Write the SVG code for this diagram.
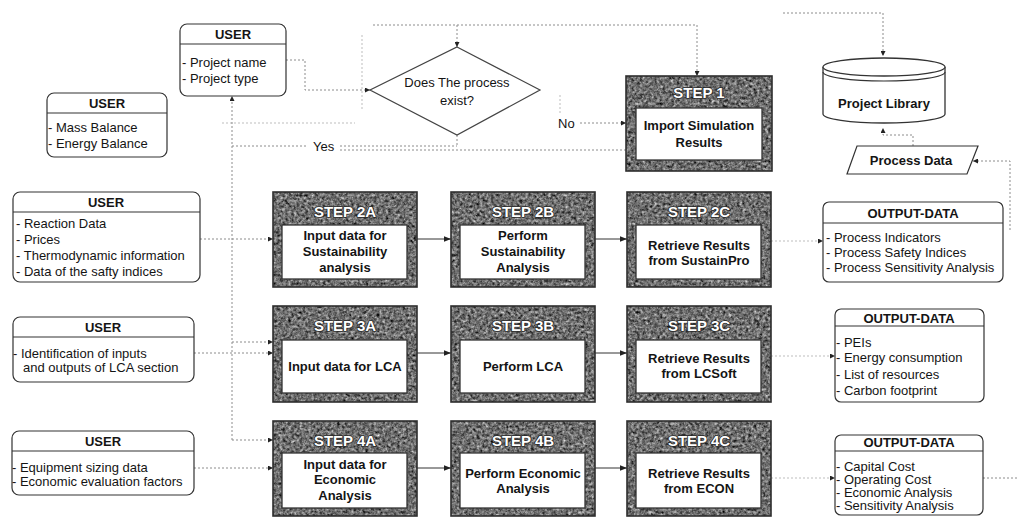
<svg xmlns="http://www.w3.org/2000/svg" width="1017" height="521" viewBox="0 0 1017 521">
<style>
text{font-family:"Liberation Sans",Arial,sans-serif;fill:#141414}
.ubox{fill:#fff;stroke:#333;stroke-width:1.2}
.div{stroke:#333;stroke-width:1.2}
.hdr{font-size:13px;font-weight:bold;text-anchor:middle}
.itm{font-size:13px}
.frame{fill:none;stroke:#2e2e2e;stroke-width:1.6}
.inner{fill:#fff;stroke:#333;stroke-width:1.3}
.slabel{font-size:15px;font-weight:bold;text-anchor:middle;fill:#fff;stroke:#2a2a2a;stroke-width:1.6;paint-order:stroke;stroke-linejoin:round}
.stxt{font-size:13px;font-weight:bold;text-anchor:middle}
.dot{fill:none;stroke:#8c8c8c;stroke-width:1;stroke-dasharray:2 2}
.faint{fill:none;stroke:#bdbdbd;stroke-width:1;stroke-dasharray:2 2}
.solid{fill:none;stroke:#333;stroke-width:1}
.lbl{font-size:13px}
</style>
<defs>
<marker id="ah" viewBox="0 0 10 10" refX="10" refY="5" markerWidth="5" markerHeight="5" orient="auto" markerUnits="strokeWidth">
<path d="M0,0 L10,5 L0,10 z" fill="#222"/>
</marker>
<marker id="ahs" viewBox="0 0 10 10" refX="10" refY="5" markerWidth="7" markerHeight="7" orient="auto" markerUnits="strokeWidth">
<path d="M0,1 L10,5 L0,9 z" fill="#222"/>
</marker>
<filter id="tex" x="0" y="0" width="1" height="1" color-interpolation-filters="sRGB">
<feTurbulence type="fractalNoise" baseFrequency="0.35" numOctaves="3" seed="4" result="n"/>
<feColorMatrix in="n" type="matrix" values="0.33 0.33 0.33 0 0 0.33 0.33 0.33 0 0 0.33 0.33 0.33 0 0 0 0 0 0 1" result="g"/>
<feComponentTransfer in="g" result="c">
<feFuncR type="linear" slope="1.6" intercept="-0.36"/>
<feFuncG type="linear" slope="1.6" intercept="-0.36"/>
<feFuncB type="linear" slope="1.6" intercept="-0.36"/>
<feFuncA type="linear" slope="0" intercept="1"/>
</feComponentTransfer>
<feComposite in="c" in2="SourceGraphic" operator="in"/>
</filter>
</defs>

<g id="connectors">
<path class="dot" d="M286,60 H305 V90 H370" marker-end="url(#ah)"/>
<path class="faint" d="M362,35 V110"/>
<path class="dot" d="M373,25 H697 V76" marker-end="url(#ah)"/>
<path class="dot" d="M457,25 V47" marker-end="url(#ah)"/>
<path class="faint" d="M560,95 V115"/>
<path class="dot" d="M580,123 H626" marker-end="url(#ah)"/>
<path class="dot" d="M457,135 V146"/>
<path class="dot" d="M232,146 H308"/>
<path class="dot" d="M340,146 H457"/>
<path class="dot" d="M340,150 H626"/>
<path class="faint" d="M222,123 H355"/>
<path class="dot" d="M232,440 V96" marker-end="url(#ah)"/>
<path class="dot" d="M200,239 H273" marker-end="url(#ah)"/>
<path class="dot" d="M232,342 H273" marker-end="url(#ah)"/>
<path class="dot" d="M194,353 H273" marker-end="url(#ah)"/>
<path class="dot" d="M232,440 H273" marker-end="url(#ah)"/>
<path class="dot" d="M194,468 H273" marker-end="url(#ah)"/>
<path class="solid" d="M417,239 H451" marker-end="url(#ahs)"/>
<path class="solid" d="M595,239 H627" marker-end="url(#ahs)"/>
<path class="solid" d="M417,353 H451" marker-end="url(#ahs)"/>
<path class="solid" d="M595,353 H627" marker-end="url(#ahs)"/>
<path class="solid" d="M417,468 H451" marker-end="url(#ahs)"/>
<path class="solid" d="M595,468 H627" marker-end="url(#ahs)"/>
<path class="faint" d="M771,241 H823" marker-end="url(#ah)"/>
<path class="faint" d="M771,356 H835" marker-end="url(#ah)"/>
<path class="faint" d="M771,478 H835" marker-end="url(#ah)"/>
<path class="dot" d="M983,478 H1017"/>
<path class="dot" d="M1010,230 V161 H973" marker-end="url(#ah)"/>
<path class="dot" d="M913,146 V135 H883 V128" marker-end="url(#ah)"/>
<path class="dot" d="M783,13 H883 V56" marker-end="url(#ah)"/>
<text class="lbl" x="558" y="128">No</text>
<text class="lbl" x="313" y="151">Yes</text>
</g>

<g id="user-project">
<rect class="ubox" x="180" y="24" width="106" height="72" rx="7"/>
<line class="div" x1="180" y1="44" x2="286" y2="44"/>
<text class="hdr" x="233" y="38.5">USER</text>
<text class="itm" x="182" y="66.5">- Project name</text>
<text class="itm" x="182" y="82.5">- Project type</text>
</g>

<g id="user-balance">
<rect class="ubox" x="47" y="93" width="120" height="64" rx="7"/>
<line class="div" x1="47" y1="113" x2="167" y2="113"/>
<text class="hdr" x="107" y="107.5">USER</text>
<text class="itm" x="48" y="131.5">- Mass Balance</text>
<text class="itm" x="48" y="147.5">- Energy Balance</text>
</g>

<g id="user-reaction">
<rect class="ubox" x="13" y="192" width="187" height="90" rx="7"/>
<line class="div" x1="13" y1="212" x2="200" y2="212"/>
<text class="hdr" x="106" y="206.5">USER</text>
<text class="itm" x="16" y="227.5">- Reaction Data</text>
<text class="itm" x="16" y="243.5">- Prices</text>
<text class="itm" x="16" y="259.5">- Thermodynamic information</text>
<text class="itm" x="16" y="275.5">- Data of the safty indices</text>
</g>

<g id="user-lca">
<rect class="ubox" x="13" y="317" width="181" height="65" rx="7"/>
<line class="div" x1="13" y1="337" x2="194" y2="337"/>
<text class="hdr" x="103" y="331.5">USER</text>
<text class="itm" x="13" y="357.5">- Identification of inputs</text>
<text class="itm" x="23" y="371.5">and outputs of LCA section</text>
</g>

<g id="user-equipment">
<rect class="ubox" x="12" y="431" width="182" height="64" rx="7"/>
<line class="div" x1="12" y1="451" x2="194" y2="451"/>
<text class="hdr" x="103" y="445.5">USER</text>
<text class="itm" x="12" y="471.5">- Equipment sizing data</text>
<text class="itm" x="12" y="485.5">- Economic evaluation factors</text>
</g>

<g id="decision">
<polygon points="457,47 540,90 457,135 370,90" fill="#fff" stroke="#444" stroke-width="1.2"/>
<text class="lbl" x="457" y="86.5" text-anchor="middle">Does The process</text>
<text class="lbl" x="457" y="104.5" text-anchor="middle">exist?</text>
</g>

<g id="step1">
<rect x="626" y="76" width="146" height="95" filter="url(#tex)"/>
<rect class="frame" x="626" y="76" width="146" height="95"/>
<text class="slabel" x="699" y="97.5">STEP 1</text>
<rect class="inner" x="636" y="108" width="126" height="52"/>
<text class="stxt" x="699" y="129.5">Import Simulation</text>
<text class="stxt" x="699" y="146.5">Results</text>
</g>

<g id="step2a">
<rect x="273" y="192" width="144" height="95" filter="url(#tex)"/>
<rect class="frame" x="273" y="192" width="144" height="95"/>
<text class="slabel" x="345" y="217">STEP 2A</text>
<rect class="inner" x="282" y="225" width="125" height="54"/>
<text class="stxt" x="345" y="239.5">Input data for</text>
<text class="stxt" x="345" y="255.5">Sustainability</text>
<text class="stxt" x="345" y="271.5">analysis</text>
</g>

<g id="step2b">
<rect x="451" y="192" width="144" height="95" filter="url(#tex)"/>
<rect class="frame" x="451" y="192" width="144" height="95"/>
<text class="slabel" x="523" y="217">STEP 2B</text>
<rect class="inner" x="460" y="225" width="125" height="54"/>
<text class="stxt" x="523" y="239.5">Perform</text>
<text class="stxt" x="523" y="255.5">Sustainability</text>
<text class="stxt" x="523" y="271.5">Analysis</text>
</g>

<g id="step2c">
<rect x="627" y="192" width="144" height="95" filter="url(#tex)"/>
<rect class="frame" x="627" y="192" width="144" height="95"/>
<text class="slabel" x="699" y="217">STEP 2C</text>
<rect class="inner" x="636" y="225" width="125" height="54"/>
<text class="stxt" x="699" y="249.5">Retrieve Results</text>
<text class="stxt" x="699" y="264.5">from SustainPro</text>
</g>

<g id="step3a">
<rect x="273" y="306" width="144" height="96" filter="url(#tex)"/>
<rect class="frame" x="273" y="306" width="144" height="96"/>
<text class="slabel" x="345" y="331">STEP 3A</text>
<rect class="inner" x="282" y="340" width="125" height="53"/>
<text class="stxt" x="345" y="370.5">Input data for LCA</text>
</g>

<g id="step3b">
<rect x="451" y="306" width="144" height="96" filter="url(#tex)"/>
<rect class="frame" x="451" y="306" width="144" height="96"/>
<text class="slabel" x="523" y="331">STEP 3B</text>
<rect class="inner" x="460" y="340" width="125" height="53"/>
<text class="stxt" x="523" y="370.5">Perform LCA</text>
</g>

<g id="step3c">
<rect x="627" y="306" width="144" height="96" filter="url(#tex)"/>
<rect class="frame" x="627" y="306" width="144" height="96"/>
<text class="slabel" x="699" y="331">STEP 3C</text>
<rect class="inner" x="636" y="340" width="125" height="53"/>
<text class="stxt" x="699" y="362.5">Retrieve Results</text>
<text class="stxt" x="699" y="377.5">from LCSoft</text>
</g>

<g id="step4a">
<rect x="273" y="421" width="144" height="95" filter="url(#tex)"/>
<rect class="frame" x="273" y="421" width="144" height="95"/>
<text class="slabel" x="345" y="446">STEP 4A</text>
<rect class="inner" x="282" y="453" width="125" height="55"/>
<text class="stxt" x="345" y="468.5">Input data for</text>
<text class="stxt" x="345" y="484">Economic</text>
<text class="stxt" x="345" y="500">Analysis</text>
</g>

<g id="step4b">
<rect x="451" y="421" width="144" height="95" filter="url(#tex)"/>
<rect class="frame" x="451" y="421" width="144" height="95"/>
<text class="slabel" x="523" y="446">STEP 4B</text>
<rect class="inner" x="460" y="453" width="125" height="55"/>
<text class="stxt" x="523" y="477.5">Perform Economic</text>
<text class="stxt" x="523" y="492.5">Analysis</text>
</g>

<g id="step4c">
<rect x="627" y="421" width="144" height="95" filter="url(#tex)"/>
<rect class="frame" x="627" y="421" width="144" height="95"/>
<text class="slabel" x="699" y="446">STEP 4C</text>
<rect class="inner" x="636" y="453" width="125" height="55"/>
<text class="stxt" x="699" y="477.5">Retrieve Results</text>
<text class="stxt" x="699" y="492.5">from ECON</text>
</g>

<g id="project-library">
<path d="M823,67 V114 A61,9 0 0 0 945,114 V67" fill="#fff" stroke="#333" stroke-width="1.3"/>
<ellipse cx="884" cy="67" rx="61" ry="9" fill="#fff" stroke="#333" stroke-width="1.3"/>
<path d="M823,72 A61,9 0 0 0 945,72" fill="none" stroke="#333" stroke-width="1.1"/>
<text class="stxt" x="884" y="107.5">Project Library</text>
</g>

<g id="process-data">
<polygon points="857,146 978,146 967,174 847,174" fill="#fff" stroke="#333" stroke-width="1.2"/>
<text class="stxt" x="911" y="165">Process Data</text>
</g>

<g id="output-1">
<rect class="ubox" x="823" y="202" width="180" height="80" rx="6"/>
<line class="div" x1="823" y1="223" x2="1003" y2="223"/>
<text class="hdr" x="913" y="217.5">OUTPUT-DATA</text>
<text class="itm" x="826" y="241.5">- Process Indicators</text>
<text class="itm" x="826" y="256.5">- Process Safety Indices</text>
<text class="itm" x="826" y="271.5">- Process Sensitivity Analysis</text>
</g>

<g id="output-2">
<rect class="ubox" x="835" y="309" width="149" height="93" rx="6"/>
<line class="div" x1="835" y1="326" x2="984" y2="326"/>
<text class="hdr" x="909" y="322.5">OUTPUT-DATA</text>
<text class="itm" x="836" y="346.5">- PEIs</text>
<text class="itm" x="836" y="362">- Energy consumption</text>
<text class="itm" x="836" y="378.5">- List of resources</text>
<text class="itm" x="836" y="394.5">- Carbon footprint</text>
</g>

<g id="output-3">
<rect class="ubox" x="835" y="435" width="148" height="80" rx="6"/>
<line class="div" x1="835" y1="451" x2="983" y2="451"/>
<text class="hdr" x="909" y="447">OUTPUT-DATA</text>
<text class="itm" x="836" y="470.5">- Capital Cost</text>
<text class="itm" x="836" y="483.5">- Operating Cost</text>
<text class="itm" x="836" y="496.5">- Economic Analysis</text>
<text class="itm" x="836" y="509.5">- Sensitivity Analysis</text>
</g>
</svg>
